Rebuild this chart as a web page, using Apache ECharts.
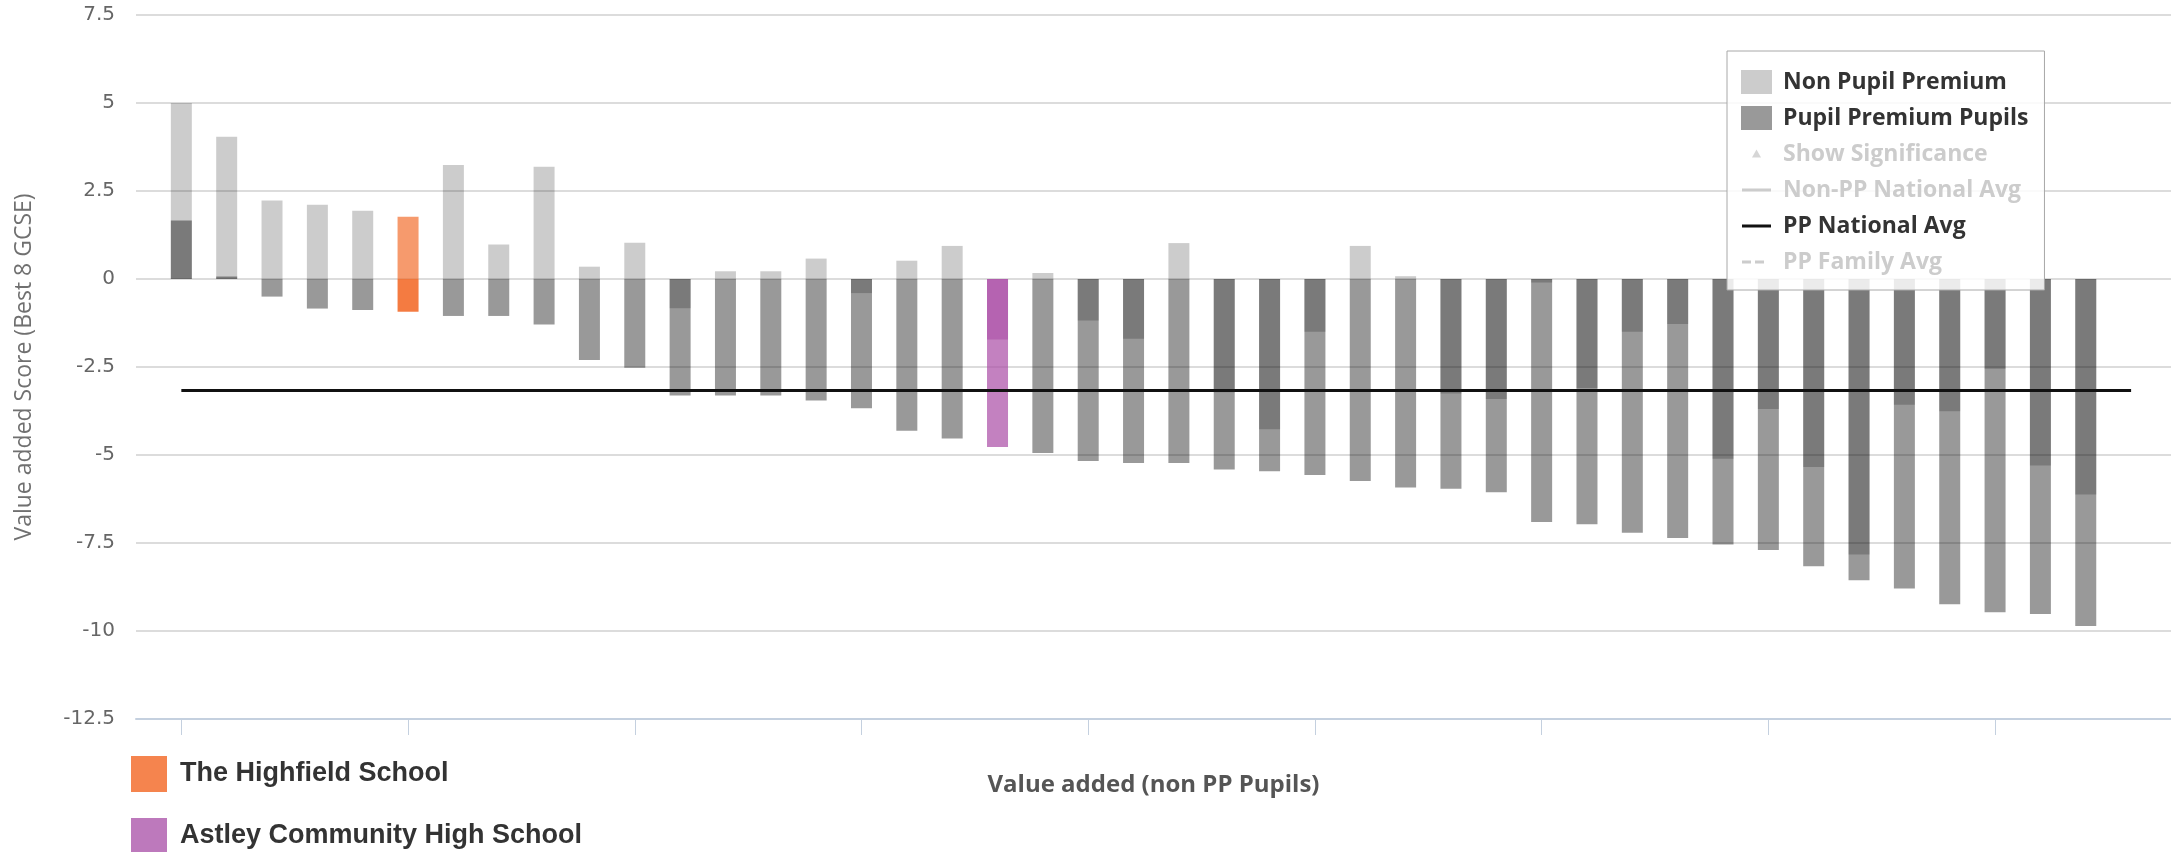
<!DOCTYPE html>
<html>
<head>
<meta charset="utf-8">
<script src="https://cdn.jsdelivr.net/npm/echarts@6/dist/echarts.min.js"></script>
<style>
html,body{margin:0;padding:0;background:#fff;}
#chart{width:2171px;height:852px;}
</style>
</head>
<body>
<div id="chart"></div>
<script>
// ---- data ----
const schoolIndex = [0,1,2,3,4,5,6,7,8,9,10,11,12,13,14,15,16,17,18,19,20,21,22,23,24,25,26,27,28,29,30,31,32,33,34,35,36,37,38,39,40,41,42];
const nonPP = [5.00,4.04,2.23,2.11,1.94,1.77,3.24,0.98,3.19,0.35,1.03,-0.83,0.22,0.22,0.58,-0.40,0.52,0.94,-1.72,0.17,-1.18,-1.70,1.02,-3.22,-4.27,-1.50,0.94,0.08,-3.25,-3.41,-0.10,-3.10,-1.50,-1.28,-5.11,-3.69,-5.34,-7.83,-3.57,-3.76,-2.55,-5.30,-6.12];
const ppPupils = [1.66,0.07,-0.50,-0.84,-0.88,-0.93,-1.05,-1.05,-1.29,-2.30,-2.52,-3.31,-3.31,-3.31,-3.45,-3.67,-4.31,-4.53,-4.77,-4.94,-5.17,-5.23,-5.23,-5.41,-5.46,-5.57,-5.74,-5.92,-5.96,-6.06,-6.90,-6.97,-7.21,-7.36,-7.54,-7.70,-8.16,-8.56,-8.79,-9.24,-9.47,-9.52,-9.86];
const ppNationalAvg = -3.17;
const ppNationalAvgRange = [0, 43];
const xTickValues = [0,5,10,15,20,25,30,35,40];
const highfieldIndex = 5;
const astleyIndex = 18;
const legendTopNames = ['Non Pupil Premium','Pupil Premium Pupils','Show Significance','Non-PP National Avg','PP National Avg','PP Family Avg'];
const legendSchoolNames = ['The Highfield School','Astley Community High School'];

// ---- styles ----
const FONT = 'Open Sans';
const styleFor = {};
styleFor[highfieldIndex] = {np: 'rgba(242,101,34,0.66)', pp: 'rgba(242,101,34,0.86)'};
styleFor[astleyIndex] = {np: 'rgba(170,75,165,0.57)', pp: 'rgba(170,75,165,0.7)'};

function barData(values, key) {
  return schoolIndex.map(function (i) {
    const item = {value: [i, values[i]]};
    if (styleFor[i]) item.itemStyle = {color: styleFor[i][key]};
    return item;
  });
}

// legend icons (bounding box 31x24 kept by tiny corner marks)
const corners = 'M0,0L0.05,0L0.05,0.05Z M31,24L30.95,24L30.95,23.95Z ';
const triIcon = 'path://' + corners + 'M15.5,7.5L20,15.5L11,15.5Z';
const lineIcon = 'path://' + corners + 'M1,10.5L30,10.5L30,13.5L1,13.5Z';
const dashIcon = 'path://' + corners + 'M1,10.5L10,10.5L10,13.5L1,13.5Z M14,10.5L23,10.5L23,13.5L14,13.5Z';

const chart = echarts.init(document.getElementById('chart'));
chart.setOption({
  animation: false,
  backgroundColor: '#fff',
  grid: {left: 136, right: 0, top: 15, bottom: 133},
  xAxis: {
    type: 'value', min: -1, max: 43.88,
    name: 'Value added (non PP Pupils)', nameLocation: 'middle', nameGap: 54,
    nameTextStyle: {fontFamily: FONT, fontWeight: 'bold', fontSize: 24, color: '#555'},
    axisLine: {onZero: false, lineStyle: {color: '#c4d0df', width: 2}},
    axisTick: {show: true, customValues: xTickValues, length: 16, lineStyle: {color: '#c4d0df', width: 1}},
    axisLabel: {show: false},
    splitLine: {show: false}
  },
  yAxis: {
    type: 'value', min: -12.5, max: 7.5, interval: 2.5,
    name: 'Value added Score (Best 8 GCSE)', nameLocation: 'middle', nameGap: 100,
    nameTextStyle: {fontFamily: FONT, fontSize: 23, color: '#707070'},
    axisLine: {show: false}, axisTick: {show: false},
    axisLabel: {fontFamily: 'DejaVu Sans', fontSize: 20, color: '#666', margin: 21},
    splitLine: {lineStyle: {color: '#dcdcdc', width: 2}}
  },
  legend: [{
    data: [
      {name: legendTopNames[0], icon: 'rect'},
      {name: legendTopNames[1], icon: 'rect'},
      {name: legendTopNames[2], icon: triIcon},
      {name: legendTopNames[3], icon: lineIcon},
      {name: legendTopNames[4], icon: lineIcon},
      {name: legendTopNames[5], icon: dashIcon}
    ],
    orient: 'vertical', left: 1727, top: 51,
    padding: [19, 16, 16, 14],
    itemWidth: 31, itemHeight: 24, itemGap: 12,
    backgroundColor: 'rgba(255,255,255,0.85)', borderColor: '#a8a8a8', borderWidth: 1,
    inactiveColor: '#cccccc',
    selected: {'Show Significance': false, 'Non-PP National Avg': false, 'PP Family Avg': false},
    textStyle: {fontFamily: FONT, fontWeight: 'bold', fontSize: 23, color: '#333', padding: [0, 0, 0, 6]},
    z: 10
  }, {
    data: legendSchoolNames.map(function (n) { return {name: n, icon: 'rect'}; }),
    orient: 'vertical', left: 126, top: 751, height: 140,
    itemWidth: 36, itemHeight: 36, itemGap: 26,
    selectedMode: false,
    textStyle: {fontFamily: 'Liberation Sans', fontWeight: 'bold', fontSize: 27, color: '#333', padding: [0, 0, 0, 8]}
  }],
  series: [
    {name: legendTopNames[0], type: 'bar', barWidth: 21, barGap: '-100%', itemStyle: {color: 'rgba(0,0,0,0.2)'}, data: barData(nonPP, 'np')},
    {name: legendTopNames[1], type: 'bar', barWidth: 21, barGap: '-100%', itemStyle: {color: 'rgba(0,0,0,0.4)'}, data: barData(ppPupils, 'pp')},
    {name: legendTopNames[2], type: 'scatter', symbol: 'triangle', itemStyle: {color: '#999'}, data: []},
    {name: legendTopNames[3], type: 'line', symbol: 'none', lineStyle: {color: '#999', width: 2}, itemStyle: {color: '#999'}, data: []},
    {name: legendTopNames[4], type: 'line', symbol: 'none', z: 5, lineStyle: {color: '#111', width: 3}, itemStyle: {color: '#111'},
      data: ppNationalAvgRange.map(function (x) { return [x, ppNationalAvg]; })},
    {name: legendTopNames[5], type: 'line', symbol: 'none', lineStyle: {color: '#999', width: 2, type: 'dashed'}, itemStyle: {color: '#999'}, data: []},
    {name: legendSchoolNames[0], type: 'scatter', itemStyle: {color: '#f26522'}, data: []},
    {name: legendSchoolNames[1], type: 'scatter', itemStyle: {color: '#ad58ab'}, data: []}
  ]
});
</script>
</body>
</html>
